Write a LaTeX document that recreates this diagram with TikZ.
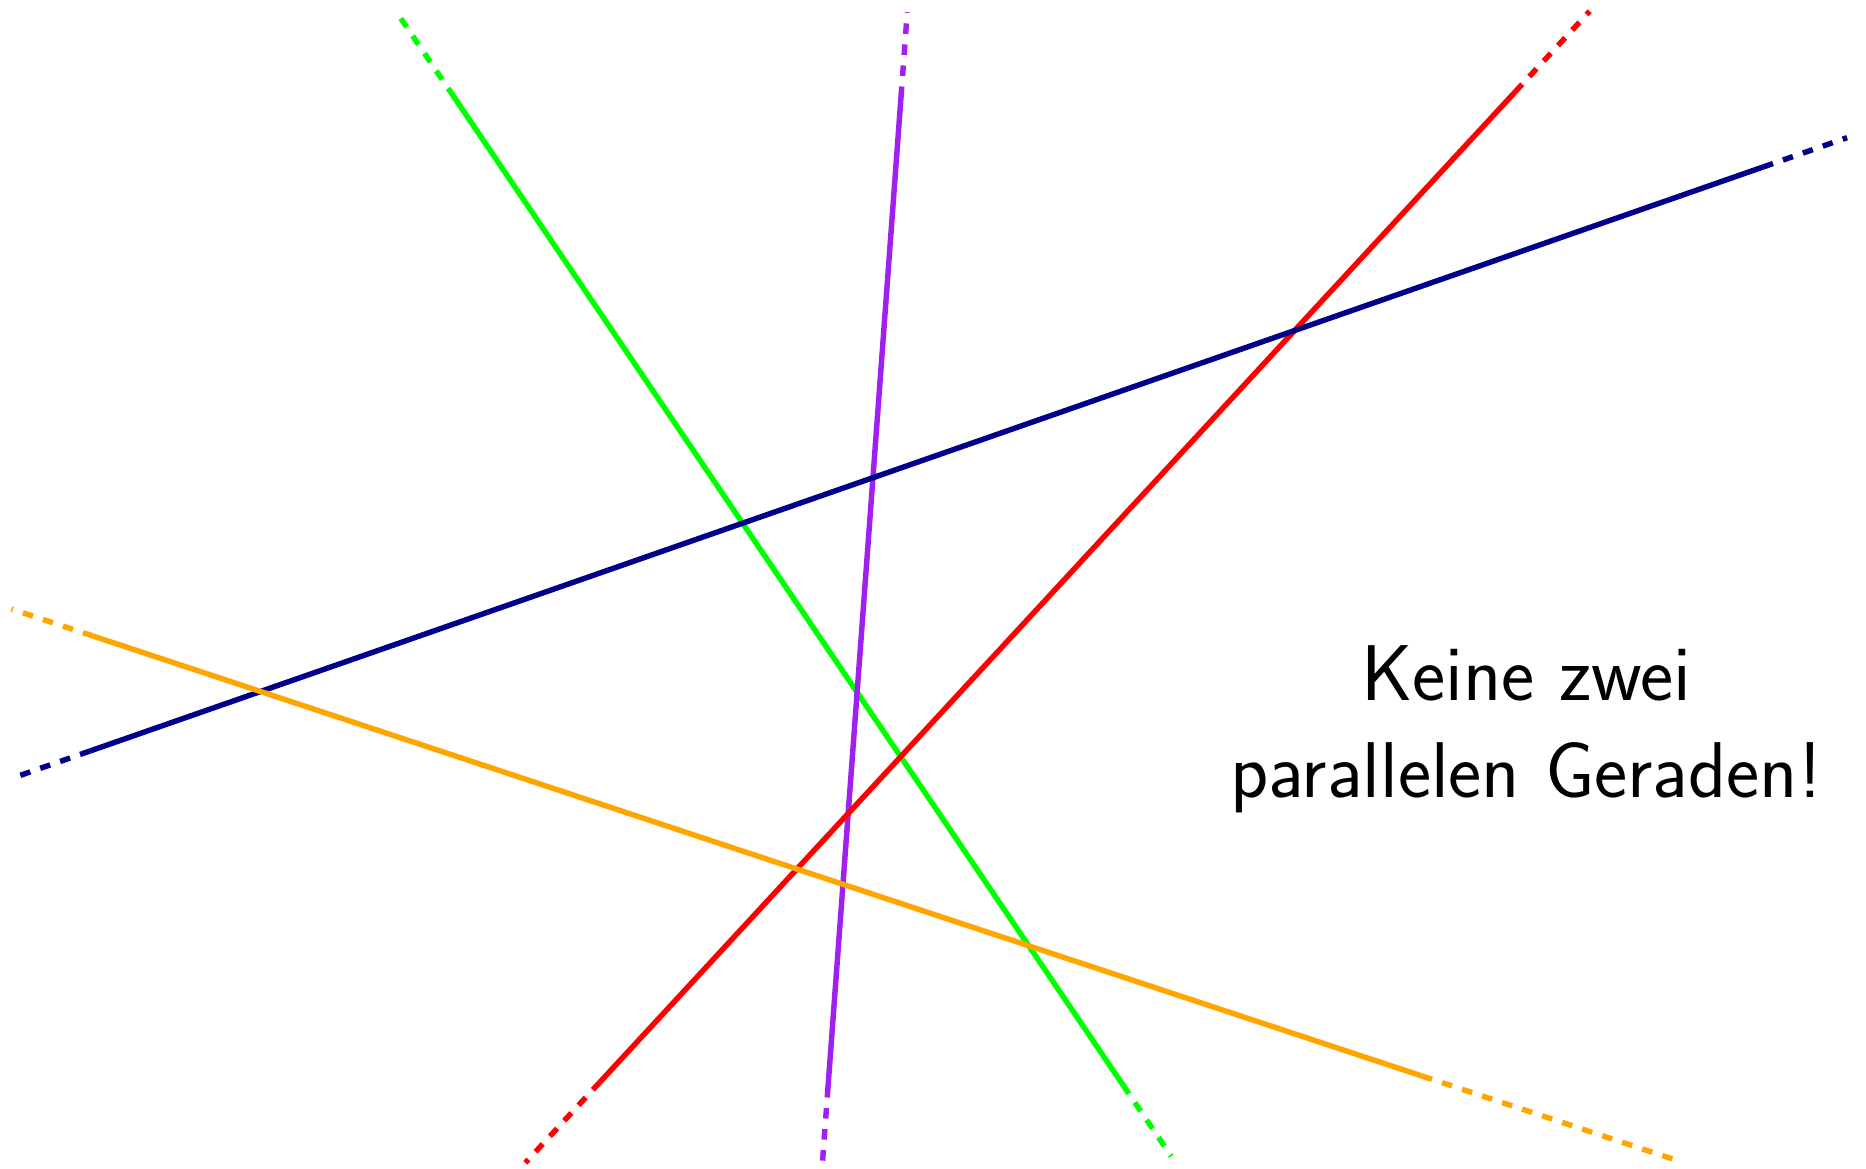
\documentclass[tikz,border=0pt]{standalone}
\usetikzlibrary{calc}
\definecolor{gGruen}{RGB}{0,255,0}
\definecolor{gLila}{RGB}{160,32,240}
\definecolor{gRot}{RGB}{255,0,0}
\definecolor{gBlau}{RGB}{0,0,139}
\definecolor{gOrange}{RGB}{255,165,0}
\begin{document}
\begin{tikzpicture}[line width=1.55pt]
\useasboundingbox (0,0) rectangle (18.66,11.68);
% Endpunkte der durchgezogenen Stuecke
\coordinate (g1) at (4.54,10.71);  \coordinate (g2) at (11.23,0.83);
\coordinate (l1) at (9.01,10.71);  \coordinate (l2) at (8.28,0.81);
\coordinate (r1) at (15.15,10.76); \coordinate (r2) at (6.00,0.86);
\coordinate (b1) at (17.63,10.01); \coordinate (b2) at (0.90,4.17);
\coordinate (o1) at (0.93,5.32);   \coordinate (o2) at (14.22,0.92);
% Geraden: Mitte durchgezogen, beide Enden gestrichelt
\foreach \c/\a/\b/\la/\lb in {gGruen/g1/g2/1.03/0.86, gLila/l1/l2/0.85/0.76,
    gRot/r1/r2/1.10/1.10, gBlau/b1/b2/0.89/0.83, gOrange/o1/o2/0.86/2.65}{
  \draw[\c] (\a) -- (\b);
  \draw[\c,dashed] (\a) -- ($(\a)!-\la cm!(\b)$);
  \draw[\c,dashed] (\b) -- ($(\b)!-\lb cm!(\a)$);
}
% Text
\node[align=center,font=\sffamily\fontsize{22.5}{27.5}\selectfont] (hinweis) at (15.26,4.39)
  {Keine zwei\\parallelen Geraden!};
\end{tikzpicture}
\end{document}
